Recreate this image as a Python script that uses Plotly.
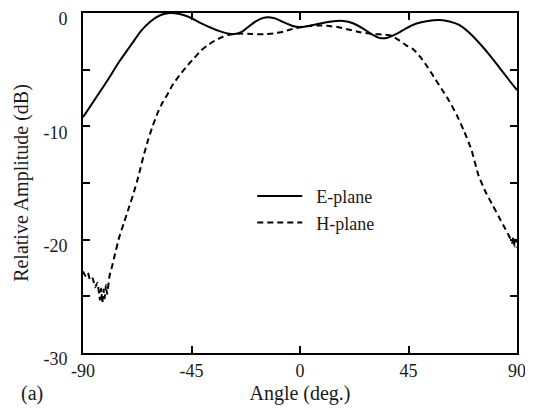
import plotly.graph_objects as go

# E-plane (solid)
e_angle = [-90, -85, -80, -75, -70, -66, -62, -58, -54, -50, -46, -42, -38, -34, -30, -27, -24, -21, -18, -15, -13, -10, -7, -3, 0, 4, 8, 13, 18, 22, 26, 30, 33, 36, 40, 44, 48, 53, 58, 62, 66, 70, 75, 79, 83, 87, 90]
e_amp = [-9.2, -7.6, -6.0, -4.3, -2.8, -1.6, -0.75, -0.2, 0.0, -0.08, -0.35, -0.8, -1.2, -1.55, -1.8, -1.85, -1.65, -1.15, -0.7, -0.42, -0.38, -0.5, -0.8, -1.15, -1.25, -1.12, -0.95, -0.75, -0.7, -0.9, -1.35, -1.9, -2.2, -2.2, -1.85, -1.35, -0.95, -0.7, -0.62, -0.75, -1.05, -1.7, -2.8, -3.8, -4.9, -6.0, -6.8]

# H-plane (dashed)
h_angle = [-90, -89, -88, -87, -86, -85, -84, -83, -82.5, -82, -81.5, -81, -80.5, -80, -79, -78, -77, -75, -73, -71, -69, -67, -65, -63, -61, -59, -57, -55, -53, -50, -47, -44, -41, -38, -35, -32, -29, -25, -20, -15, -11, -7, -3, 0, 4, 8, 12, 16, 20, 25, 30, 35, 38, 41, 44, 47, 50, 53, 56, 59, 62, 65, 68, 71, 74, 77, 80, 83, 85, 87, 88, 88.5, 89, 89.5, 90]
h_amp = [-22.8, -23.2, -22.9, -23.6, -23.4, -24.2, -23.8, -25.3, -24.3, -25.6, -24.4, -25.2, -24.0, -24.8, -23.2, -22.4, -21.5, -19.8, -18.5, -17.2, -15.9, -14.4, -12.7, -11.2, -9.9, -8.8, -7.9, -7.2, -6.4, -5.5, -4.7, -4.0, -3.3, -2.8, -2.4, -2.1, -1.9, -1.82, -1.85, -1.88, -1.8, -1.65, -1.4, -1.25, -1.15, -1.1, -1.15, -1.25, -1.45, -1.7, -1.85, -1.9, -2.0, -2.4, -2.85, -3.2, -3.9, -4.8, -5.8, -6.8, -7.8, -9.0, -10.4, -12.0, -14.3, -15.8, -17.0, -18.2, -19.0, -19.8, -20.3, -19.8, -20.6, -20.0, -20.7]

x_ticks = [-90, -45, 0, 45, 90]
x_labels = ["-90", "-45", "0", "45", "90"]
y_ticks = [0, -5, -10, -15, -20, -25, -30]
y_labels = ["0", "", "-10", "", "-20", "", "-30"]

font = "Liberation Serif, Times New Roman, serif"
ink = "#1a1a1a"

fig = go.Figure()
fig.add_trace(go.Scatter(x=e_angle, y=e_amp, mode="lines", name="\u2002E-plane",
                         line=dict(color="black", width=2, shape="spline", smoothing=0.6)))
fig.add_trace(go.Scatter(x=h_angle, y=h_amp, mode="lines", name="\u2002H-plane",
                         line=dict(color="black", width=2, dash="6px,4px", shape="spline", smoothing=0.4)))

axis_common = dict(showline=True, linecolor="black", linewidth=2, mirror="allticks",
                   ticks="inside", ticklen=7, tickwidth=1.5, tickcolor="black",
                   showgrid=False, zeroline=False, automargin=False,
                   ticklabeloverflow="allow",
                   tickfont=dict(family=font, size=18, color=ink))

fig.update_xaxes(range=[-90, 90], tickvals=x_ticks, ticktext=x_labels,
                 title=dict(text="Angle (deg.)", font=dict(family=font, size=20, color=ink), standoff=6),
                 **axis_common)
fig.update_yaxes(range=[-30, 0], tickvals=y_ticks, ticktext=y_labels, ticklabelstandoff=10,
                 ticklabelshift=6,
                 title=dict(text="Relative Amplitude (dB)", font=dict(family=font, size=20, color=ink), standoff=9),
                 **axis_common)

fig.add_annotation(text="(a)", xref="paper", yref="paper", x=-0.118, y=-0.12,
                   xanchor="center", yanchor="middle",
                   showarrow=False, font=dict(family=font, size=20, color=ink))

# page body has an 8px margin, so the figure is sized/offset to land on the reference pixels
fig.update_layout(width=525, height=402, margin=dict(l=75, r=16, t=5, b=57),
                  plot_bgcolor="white", paper_bgcolor="white",
                  legend=dict(x=0.39, y=0.515, xanchor="left", yanchor="top",
                              bgcolor="rgba(0,0,0,0)", font=dict(family=font, size=18, color=ink),
                              itemwidth=45, tracegroupgap=0))

fig.write_html("out.html")
